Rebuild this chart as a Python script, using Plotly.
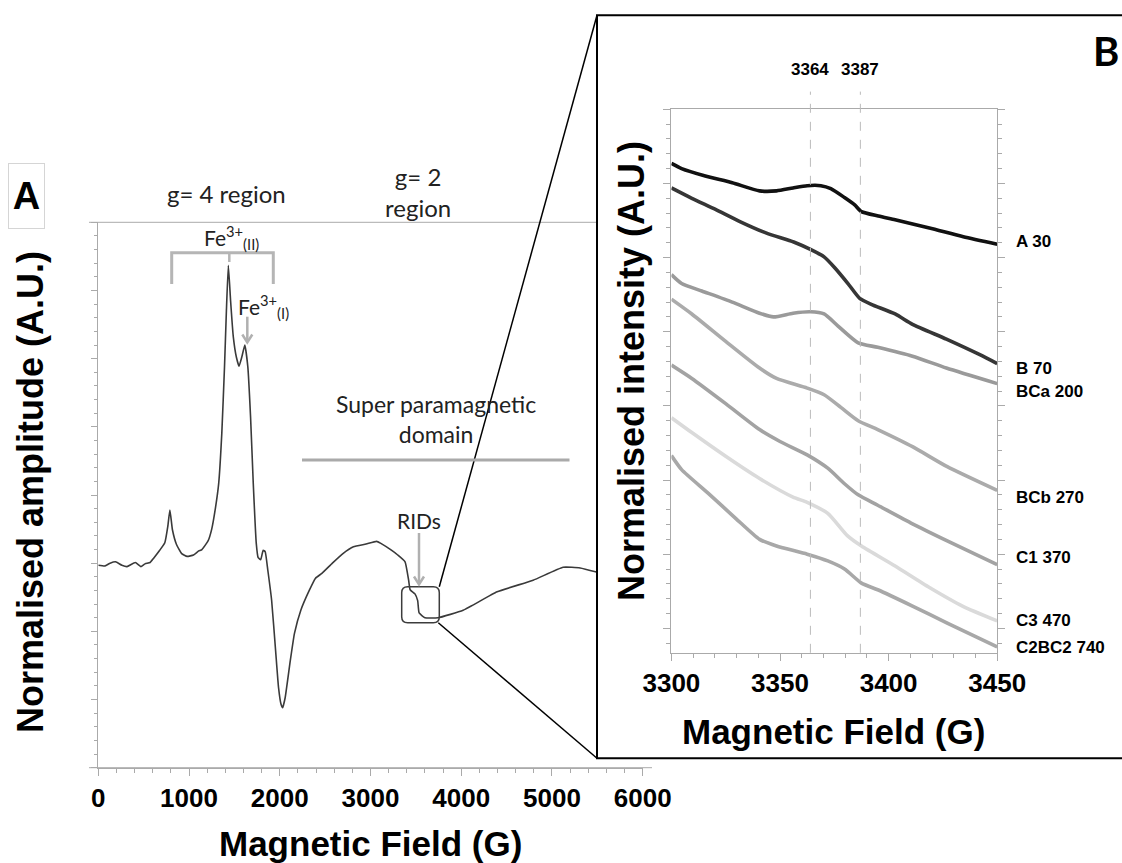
import plotly.graph_objects as go

# Panel A: full EPR spectrum
field_a = [0, 74, 130, 190, 260, 316, 408, 469, 515, 571, 608, 677, 733, 766, 789, 817, 863, 919, 979, 1049,
           1107, 1142, 1211, 1250, 1290, 1327, 1361, 1391, 1412, 1433, 1458, 1488, 1522, 1551, 1581, 1615, 1648, 1678, 1708, 1741,
           1762, 1790, 1817, 1839, 1868, 1910, 1954, 1986, 2014, 2032, 2060, 2116, 2162, 2232, 2325, 2394, 2464, 2580, 2696, 2812,
           2951, 3067, 3114, 3230, 3300, 3381, 3420, 3437, 3490, 3520, 3536, 3600, 3745, 4021, 4396, 4793, 5123, 5311, 5490]
amp_a = [2.97, 2.96, 3.0, 3.02, 2.97, 2.95, 3.01, 2.95, 2.99, 3.01, 3.07, 3.19, 3.3, 3.54, 3.78, 3.49, 3.27, 3.14, 3.1, 3.12,
         3.18, 3.2, 3.33, 3.5, 3.8, 4.17, 4.9, 5.88, 6.71, 7.37, 6.85, 6.32, 6.02, 5.89, 6.02, 6.2, 5.88, 5.15, 4.17, 3.29,
         3.08, 3.05, 3.19, 3.17, 2.9, 2.46, 1.72, 1.18, 0.93, 0.88, 1.03, 1.57, 1.97, 2.31, 2.6, 2.78, 2.85, 3.0, 3.14, 3.24,
         3.28, 3.32, 3.29, 3.19, 3.12, 3.02, 2.75, 2.61, 2.55, 2.45, 2.27, 2.2, 2.2, 2.31, 2.58, 2.75, 2.94, 2.93, 2.87]
xticks_a = [0, 1000, 2000, 3000, 4000, 5000, 6000]

# Panel B: zoom on the g=2 region, one curve per sample
field_A30 = [3300, 3304.7, 3315.6, 3328, 3340.6, 3348.4, 3356, 3362.5, 3368.8, 3373.4, 3379.7, 3384.4, 3387.5, 3395.3, 3403, 3418.8, 3434.4, 3450]
int_A30 = [6.27, 6.2, 6.1, 6.01, 5.9, 5.9, 5.94, 5.97, 5.97, 5.93, 5.81, 5.71, 5.62, 5.56, 5.51, 5.4, 5.28, 5.18]
field_B70 = [3300, 3309.4, 3320.3, 3331.3, 3343.8, 3356.3, 3364, 3370.3, 3375, 3381.3, 3386.7, 3392, 3403, 3411, 3426.6, 3442, 3450]
int_B70 = [5.94, 5.8, 5.65, 5.49, 5.33, 5.21, 5.11, 5.01, 4.87, 4.65, 4.45, 4.37, 4.24, 4.1, 3.9, 3.69, 3.57]
field_BCa200 = [3300, 3304.7, 3314, 3328, 3340.6, 3347, 3356, 3364, 3370.3, 3376.6, 3386, 3395, 3411, 3426.6, 3450]
int_BCa200 = [4.77, 4.65, 4.55, 4.4, 4.25, 4.2, 4.25, 4.27, 4.24, 4.08, 3.85, 3.79, 3.67, 3.51, 3.3]
field_BCb270 = [3300, 3309.4, 3325, 3340.6, 3348.4, 3362.5, 3370.3, 3378, 3386, 3395, 3411, 3427, 3450]
int_BCb270 = [4.44, 4.24, 3.87, 3.51, 3.37, 3.24, 3.15, 2.98, 2.8, 2.68, 2.45, 2.18, 1.86]
field_C1370 = [3300, 3309.4, 3325, 3340.6, 3350, 3362.5, 3372, 3379.7, 3386, 3395, 3411, 3427, 3450]
int_C1370 = [3.55, 3.37, 3.03, 2.68, 2.52, 2.34, 2.16, 1.95, 1.8, 1.66, 1.41, 1.18, 0.86]
field_C3470 = [3300, 3309.4, 3325, 3340.6, 3356, 3362.5, 3372, 3381, 3387.5, 3403, 3418.8, 3434, 3450]
int_C3470 = [2.84, 2.64, 2.32, 2.02, 1.77, 1.7, 1.55, 1.25, 1.11, 0.84, 0.55, 0.3, 0.1]
field_C2BC2740 = [3300, 3304.7, 3317, 3329.7, 3340.6, 3348.4, 3362.5, 3372, 3379.7, 3387.5, 3395, 3411, 3427, 3450]
int_C2BC2740 = [2.33, 2.14, 1.82, 1.48, 1.2, 1.11, 1.0, 0.91, 0.8, 0.61, 0.52, 0.3, 0.07, -0.25]

sample_names = ["A 30", "B 70", "BCa 200", "BCb 270", "C1 370", "C3 470", "C2BC2 740"]
label_y = [5.22, 3.5, 3.19, 1.77, 0.95, 0.11, -0.26]
marker_fields = [3364, 3387]
xticks_b = [3300, 3350, 3400, 3450]

sample_fields = [field_A30, field_B70, field_BCa200, field_BCb270, field_C1370, field_C3470, field_C2BC2740]
sample_ints = [int_A30, int_B70, int_BCa200, int_BCb270, int_C1370, int_C3470, int_C2BC2740]
sample_colors = ["#111111", "#363636", "#9a9a9a", "#ababab", "#a3a3a3", "#dadada", "#a8a8a8"]

# page geometry: body margin removed, figure fills the window
W, H = 1122, 863


def px(x):
    return x / W


def py(y):
    return 1 - y / H


BOLD = "Arial, Liberation Sans, sans-serif"
SOFT = "Lato, Noto Sans, sans-serif"
GREY = "#aaaaaa"
ARROW = "#b0b0b0"


def label(text, x, y, size, family=SOFT, angle=0, **kw):
    d = dict(text=text, x=px(x), y=py(y), xref="paper", yref="paper", showarrow=False,
             xanchor="center", yanchor="middle", textangle=angle,
             font=dict(family=family, size=size, color=kw.pop("color", "#222222")))
    d.update(kw)
    return d


def pline(points, color, width, close=False):
    # open/closed polyline in page pixels -> paper path
    d = "M " + " L ".join(f"{px(x):.5f},{py(y):.5f}" for x, y in points)
    if close:
        d += " Z"
    return dict(type="path", xref="paper", yref="paper", path=d, line=dict(color=color, width=width))


fig = go.Figure()

fig.add_trace(go.Scatter(
    x=field_a, y=amp_a, mode="lines",
    line=dict(color="#3a3a3a", width=1.6, shape="spline", smoothing=0.4),
    xaxis="x", yaxis="y", showlegend=False, hoverinfo="skip"
))

for f, v, c, n in zip(sample_fields, sample_ints, sample_colors, sample_names):
    fig.add_trace(go.Scatter(
        x=f, y=v, mode="lines", name=n,
        line=dict(color=c, width=3.6, shape="spline", smoothing=0.6),
        xaxis="x2", yaxis="y2", showlegend=False
    ))

shapes = []
# frame of panel A (top line + extended bottom line)
shapes.append(pline([(89, 222.3), (597, 222.3)], GREY, 1))
shapes.append(pline([(89, 767.7), (652, 767.7)], GREY, 1))
# panel B box (runs off the right edge)
shapes.append(dict(type="rect", xref="paper", yref="paper", x0=px(597), x1=px(1140), y0=py(758.3), y1=py(15.3),
                   line=dict(color="black", width=2)))
# zoom connector lines
shapes.append(pline([(439.3, 586.7), (597, 15.3)], "black", 1.5))
shapes.append(pline([(438.3, 622.7), (597, 758.3)], "black", 1.5))

# rounded box around the RIDs
bx0, bx1, by0, by1, r = 401.7, 439.3, 586.7, 622.7, 6
pts = [("M", bx0 + r, by0), ("L", bx1 - r, by0), ("Q", bx1, by0, bx1, by0 + r), ("L", bx1, by1 - r),
       ("Q", bx1, by1, bx1 - r, by1), ("L", bx0 + r, by1), ("Q", bx0, by1, bx0, by1 - r),
       ("L", bx0, by0 + r), ("Q", bx0, by0, bx0 + r, by0)]
path = ""
for p in pts:
    cmd = p[0]
    coords = p[1:]
    seg = []
    for i in range(0, len(coords), 2):
        seg.append(f"{px(coords[i]):.5f},{py(coords[i + 1]):.5f}")
    path += cmd + " " + " ".join(seg) + " "
shapes.append(dict(type="path", xref="paper", yref="paper", path=path + "Z",
                   line=dict(color="#3c3c3c", width=1.5)))

# Fe3+(II) bracket
shapes.append(pline([(171.7, 284), (171.7, 252.7), (273.3, 252.7), (273.3, 284)], "#b5b5b5", 3))
shapes.append(pline([(229.3, 252.7), (229.3, 262)], "#b5b5b5", 2.5))
# super paramagnetic domain line
shapes.append(pline([(302, 460), (569.5, 460)], GREY, 3))
# grey arrows (Fe3+(I) and RIDs)
shapes.append(pline([(247.3, 316.7), (247.3, 342)], ARROW, 2.5))
shapes.append(pline([(242.3, 334.5), (247.3, 342.5), (252.3, 334.5)], ARROW, 2.5))
shapes.append(pline([(419, 533), (419, 584)], ARROW, 2.5))
shapes.append(pline([(414, 576.5), (419, 584.5), (424, 576.5)], ARROW, 2.5))
# dashed markers in panel B
for m in marker_fields:
    shapes.append(dict(type="line", xref="x2", yref="paper", x0=m, x1=m, y0=py(652.8), y1=py(91.6),
                       line=dict(color="#bbbbbb", width=1, dash="dash")))

ann = []
ann.append(label("<b>A</b>", 26.5, 196, 38, family=BOLD, color="black",
                 bordercolor="#d5d5d5", borderwidth=1, width=35, height=64, borderpad=0))
ann.append(label("<b>B</b>", 1106, 51, 40, color="black"))
ann.append(label("g= 4 region", 226.7, 193.3, 24))
ann.append(label("g= 2<br>region", 418, 192, 24))
ann.append(label("Fe<sup>3+</sup><sub>(II)</sub>", 231, 237, 21))
ann.append(label("Fe<sup>3+</sup><sub>(I)</sub>", 263, 306, 21))
ann.append(label("Super paramagnetic<br>domain", 436, 419, 23))
ann.append(label("RIDs", 419, 520, 21))

# axis titles
ann.append(label("<b>Magnetic Field (G)</b>", 370.5, 843, 35, family=BOLD, color="black"))
ann.append(label("<b>Normalised amplitude (A.U.)</b>", 30, 492, 36, family=BOLD, angle=-90, color="black"))
ann.append(label("<b>Magnetic Field (G)</b>", 833, 731, 35, family=BOLD, color="black"))
ann.append(label("<b>Normalised intensity (A.U.)</b>", 631, 371, 36, family=BOLD, angle=-90, color="black"))

# panel B markers and sample labels
for m in marker_fields:
    ann.append(dict(text=f"<b>{m}</b>", x=m, y=py(70), xref="x2", yref="paper", showarrow=False,
                    xanchor="center", yanchor="middle", font=dict(family=BOLD, size=17, color="black")))
for n, ly in zip(sample_names, label_y):
    ann.append(dict(text=f"<b>{n}</b>", x=px(1014), y=ly, xref="paper", yref="y2", xanchor="left",
                    yanchor="middle", showarrow=False, font=dict(family=BOLD, size=17, color="black")))

tickfont = dict(family=BOLD, size=26, color="black", weight="bold")

fig.update_layout(
    width=W, height=H, autosize=False,
    margin=dict(l=0, r=0, t=0, b=0, autoexpand=False),
    paper_bgcolor="white", plot_bgcolor="rgba(0,0,0,0)",
    showlegend=False,
    xaxis=dict(domain=[px(98.3), px(642.7)], range=[0, 6000], anchor="y", automargin=False,
               tickvals=xticks_a, ticks="outside", ticklen=7, tickcolor=GREY,
               showline=True, linecolor=GREY, linewidth=1, showgrid=False, zeroline=False,
               tickfont=tickfont, minor=dict(dtick=200, ticks="outside", ticklen=4, tickcolor=GREY)),
    yaxis=dict(domain=[py(767.7), py(222.3)], range=[0, 8], anchor="x", automargin=False,
               dtick=1, tick0=0, ticks="outside", ticklen=6, tickcolor=GREY, showticklabels=False,
               showline=True, linecolor=GREY, linewidth=1, showgrid=False, zeroline=False,
               minor=dict(dtick=0.2, ticks="outside", ticklen=3, tickcolor=GREY)),
    xaxis2=dict(domain=[px(671.4), px(997.2)], range=[3300, 3450], anchor="y2", automargin=False,
                tickvals=xticks_b, ticks="outside", ticklen=7, tickcolor=GREY,
                showline=True, mirror=True, linecolor=GREY, linewidth=1, showgrid=False, zeroline=False,
                tickfont=tickfont, minor=dict(dtick=10, ticks="outside", ticklen=4, tickcolor=GREY)),
    yaxis2=dict(domain=[py(652.8), py(109.3)], range=[-0.33, 7], anchor="x2", automargin=False,
                dtick=1, tick0=0, ticks="outside", ticklen=7, tickcolor=GREY, showticklabels=False,
                showline=True, mirror="ticks", linecolor=GREY, linewidth=1, showgrid=False, zeroline=False,
                minor=dict(dtick=0.2, ticks="outside", ticklen=4, tickcolor=GREY)),
    shapes=shapes,
    annotations=ann,
)

# drop the default 8px page margin so the figure fills the window
fig.write_html("out.html", config={"displayModeBar": False},
               post_script="document.body.style.margin='0px';")
